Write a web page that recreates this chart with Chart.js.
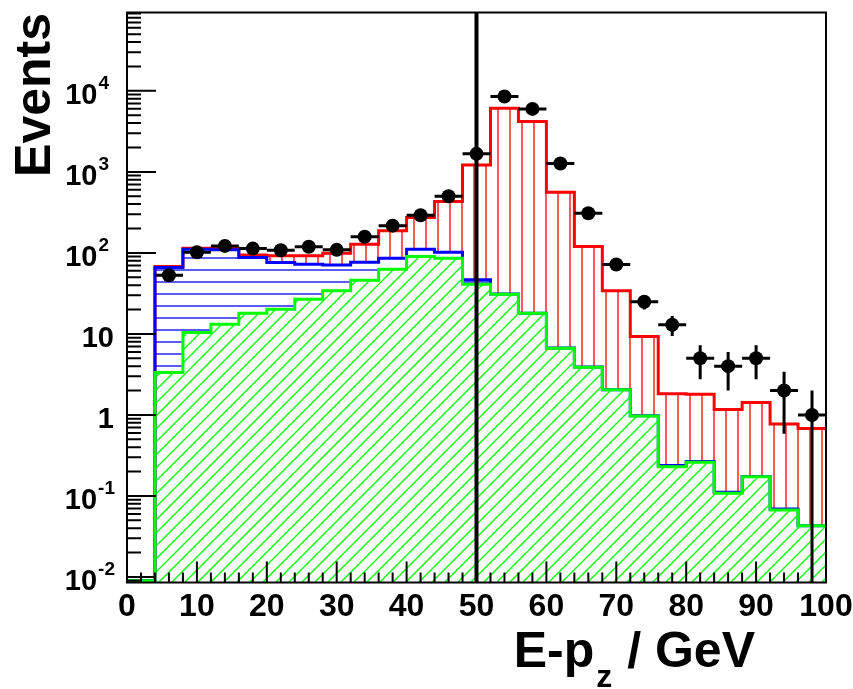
<!DOCTYPE html>
<html><head><meta charset="utf-8">
<script src="https://cdn.jsdelivr.net/npm/chart.js@4.4.1/dist/chart.umd.min.js"></script>
<style>html,body{margin:0;padding:0;background:#fff;overflow:hidden}canvas{display:block}</style>
</head><body>
<canvas id="c" width="853" height="689"></canvas>
<script>
// ---- data ----
const binLowEdges = [0,4,8,12,16,20,24,28,32,36,40,44,48,52,56,60,64,68,72,76,80,84,88,92,96];
const binUpperEdge = 100;
// stacked histogram tops (cumulative)
const greenStack = [0.009,3.33,10.4,13.2,18,20.2,26.8,34,46,63,90,86,41,30.9,18,6.66,3.88,2.04,0.97,0.23,0.26,0.108,0.173,0.067,0.043];
const blueStack  = [0.009,66,111,109,87.5,76,72.5,71,76.7,86,111,102,46.5,31,18,6.7,3.9,2.05,0.98,0.238,0.266,0.111,0.174,0.069,0.043];
const redStack   = [0.009,67.8,114,114,94.5,92,92,99,128,187,273,430,1220,6110,4180,561,120,34,9.27,1.82,1.80,1.17,1.42,0.774,0.678];
// data points
const dataCenters = [6,10,14,18,22,26,30,34,38,42,46,50,54,58,62,66,70,74,78,82,86,90,94,98];
const dataCounts  = [53,102,122,113,108,119,109,158,217,292,501,1670,8500,5990,1267,309,72,25,13,5,4,5,2,1];
const dataHalfWidth = 2;
const cutValue = 50;
// axes
const xMin = 0, xMax = 100;
const yMin = 0.00855, yMax = 92700;
const xTickValues = [0,10,20,30,40,50,60,70,80,90,100];
const xTickLabels = ['0','10','20','30','40','50','60','70','80','90','100'];
const xMinorStep = 2;
const yTickValues = [0.01,0.1,1,10,100,1000,10000];
const yTickBases  = ['10','10','1','10','10','10','10'];
const yTickExps   = ['-2','-1','','','2','3','4'];
const xTitleMain = 'E-p', xTitleSub = 'z', xTitleRest = ' / GeV';
const yTitle = 'Events';

const FONT = '"Liberation Sans", Arial, Helvetica, sans-serif';
const canvas = document.getElementById('c');
const ctx = canvas.getContext('2d');

function makePattern(kind, color, s) {
  const c = document.createElement('canvas');
  c.width = s; c.height = s;
  const g = c.getContext('2d');
  g.strokeStyle = color; g.lineWidth = 1.3;
  g.beginPath();
  if (kind === 'h') { g.moveTo(0, s/2); g.lineTo(s, s/2); }
  else if (kind === 'v') { g.moveTo(s/2, 0); g.lineTo(s/2, s); }
  else {
    g.moveTo(-1, s+1); g.lineTo(s+1, -1);
    g.moveTo(-1, 1); g.lineTo(1, -1);
    g.moveTo(s-1, s+1); g.lineTo(s+1, s-1);
  }
  g.stroke();
  return ctx.createPattern(c, 'repeat');
}

function stepPoints(vals) {
  const pts = binLowEdges.map((x, i) => ({x: x, y: vals[i]}));
  pts.push({x: binUpperEdge, y: vals[vals.length - 1]});
  return pts;
}

const histoBase = {type: 'line', stepped: true, pointRadius: 0, borderWidth: 3, tension: 0, borderJoinStyle: 'miter'};

const decor = {
  id: 'decor',
  beforeDatasetDraw(chart, args) {
    if (args.index !== 0) return;
    const xs = chart.scales.x, ys = chart.scales.y, g = chart.ctx;
    g.save();
    g.strokeStyle = '#000'; g.lineWidth = 3;
    dataCenters.forEach((c, i) => {
      const n = dataCounts[i], e = Math.sqrt(n);
      const px = xs.getPixelForValue(c), py = ys.getPixelForValue(n);
      const top = ys.getPixelForValue(n + e);
      const lo = n - e;
      const bot = lo > yMin ? ys.getPixelForValue(lo) : chart.chartArea.bottom;
      g.beginPath();
      g.moveTo(px, top); g.lineTo(px, bot);
      g.moveTo(xs.getPixelForValue(c - dataHalfWidth), py);
      g.lineTo(xs.getPixelForValue(c + dataHalfWidth), py);
      g.stroke();
    });
    g.restore();
  },
  afterDraw(chart) {
    const xs = chart.scales.x, ys = chart.scales.y, g = chart.ctx, a = chart.chartArea;
    g.save();
    g.strokeStyle = '#000'; g.lineWidth = 2;
    g.strokeRect(a.left, a.top, a.right - a.left, a.bottom - a.top);
    // x ticks
    g.beginPath();
    for (let v = xMin; v <= xMax + 1e-9; v += xMinorStep) {
      const px = xs.getPixelForValue(v);
      const major = xTickValues.includes(Math.round(v));
      g.moveTo(px, a.bottom); g.lineTo(px, a.bottom - (major ? 21 : 10));
    }
    // y ticks
    for (let d = -3; d <= 5; d++) {
      for (let m = 1; m <= 9; m++) {
        const v = m * Math.pow(10, d);
        if (v < yMin || v > yMax) continue;
        const py = ys.getPixelForValue(v);
        g.moveTo(a.left, py); g.lineTo(a.left + (m === 1 ? 29 : 14), py);
      }
    }
    g.stroke();
    // x tick labels
    g.fillStyle = '#000';
    g.font = 'bold 32px ' + FONT;
    g.textAlign = 'center'; g.textBaseline = 'alphabetic';
    xTickValues.forEach((v, i) => g.fillText(xTickLabels[i], xs.getPixelForValue(v), 616));
    // y tick labels
    yTickValues.forEach((v, i) => {
      const py = ys.getPixelForValue(v);
      const base = yTickBases[i], ex = yTickExps[i];
      g.textAlign = 'left';
      g.font = 'bold 19px ' + FONT;
      const we = ex ? g.measureText(ex).width : 0;
      g.font = 'bold 29px ' + FONT;
      const wb = g.measureText(base).width;
      const right = (ex && ex[0] !== '-') ? 108 : 114;
      const x0 = right - we - wb;
      g.fillText(base, x0, py + 13);
      if (ex) { g.font = 'bold 19px ' + FONT; g.fillText(ex, x0 + wb + 1, py - 2); }
    });
    // y title
    g.save();
    g.translate(50, 13); g.rotate(-Math.PI / 2);
    g.font = 'bold 50px ' + FONT; g.textAlign = 'right';
    g.fillText(yTitle, 0, 0);
    g.restore();
    // x title
    g.textAlign = 'left';
    g.font = 'bold 50px ' + FONT;
    const w1 = g.measureText(xTitleMain).width, w3 = g.measureText(xTitleRest).width;
    g.font = 'bold 32px ' + FONT;
    const w2 = g.measureText(xTitleSub).width;
    let x = 755 - (w1 + w2 + w3 + 3);
    const base = 667;
    g.font = 'bold 50px ' + FONT; g.fillText(xTitleMain, x, base); x += w1 + 2;
    g.font = 'bold 32px ' + FONT; g.fillText(xTitleSub, x, base + 20); x += w2 + 1;
    g.font = 'bold 50px ' + FONT; g.fillText(xTitleRest, x, base);
    g.restore();
  }
};

new Chart(ctx, {
  type: 'line',
  data: {
    datasets: [
      {label: 'Data', data: dataCenters.map((c, i) => ({x: c, y: dataCounts[i]})), showLine: false,
       pointRadius: 7, pointBackgroundColor: '#000', pointBorderColor: '#000', pointBorderWidth: 0},
      {label: 'cut', data: [{x: cutValue, y: yMin}, {x: cutValue, y: yMax}], borderColor: '#000', borderWidth: 4, pointRadius: 0},
      Object.assign({label: 'green', data: stepPoints(greenStack), borderColor: '#00ff00',
        backgroundColor: makePattern('d', '#00ff00', 13), fill: 'start'}, histoBase),
      Object.assign({label: 'blue', data: stepPoints(blueStack), borderColor: '#0000ff',
        backgroundColor: makePattern('h', '#0000ff', 12), fill: '-1'}, histoBase),
      Object.assign({label: 'red', data: stepPoints(redStack), borderColor: '#ff0000',
        backgroundColor: makePattern('v', '#ff0000', 12), fill: '-1'}, histoBase)
    ]
  },
  options: {
    responsive: false, animation: false, devicePixelRatio: 1,
    layout: {padding: {left: 127, right: 27, top: 12.5, bottom: 106.5}},
    plugins: {legend: {display: false}, tooltip: {enabled: false}},
    scales: {
      x: {type: 'linear', min: xMin, max: xMax, display: false},
      y: {type: 'logarithmic', min: yMin, max: yMax, display: false}
    }
  },
  plugins: [decor]
});
</script>
</body></html>
